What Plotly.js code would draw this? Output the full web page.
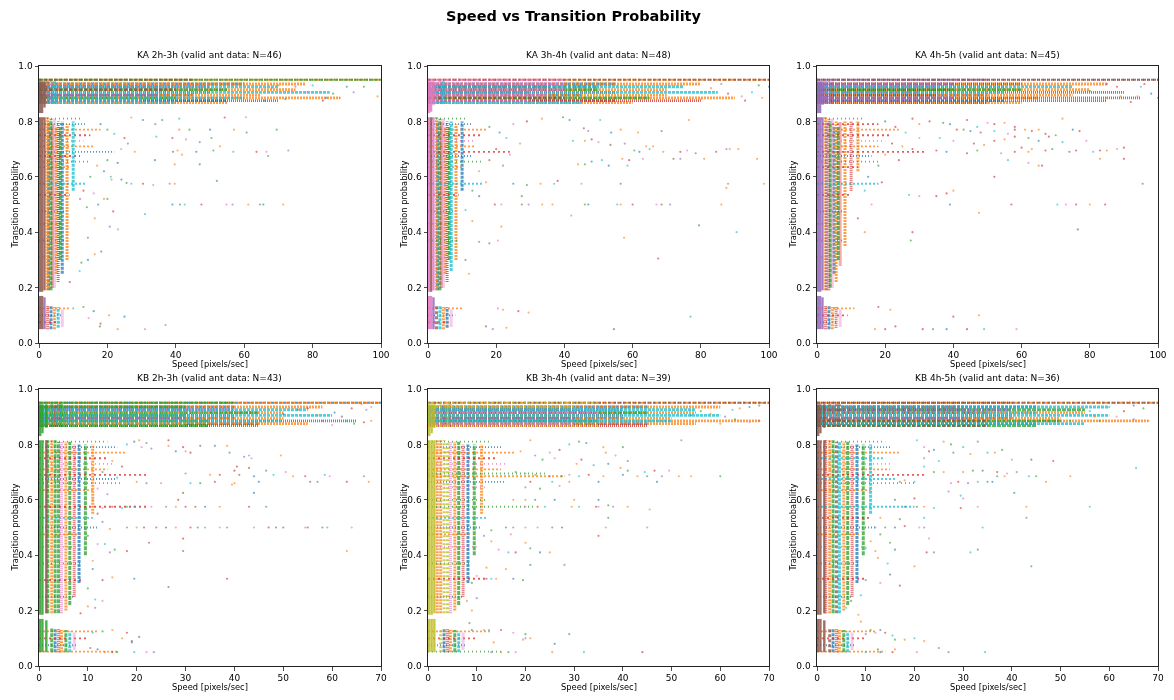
<!DOCTYPE html>
<html>
<head>
<meta charset="utf-8">
<script src="https://cdn.plot.ly/plotly-3.0.1.min.js"></script>
<style>
  body { margin: 0; background: #fff; }
  #chart { width: 1174px; height: 700px; }
</style>
</head>
<body>
<div id="chart"></div>
<script>
// ---- data ----
const PANEL_TITLES = [
    'KA 2h-3h (valid ant data: N=46)', 'KA 3h-4h (valid ant data: N=48)', 'KA 4h-5h (valid ant data: N=45)',
    'KB 2h-3h (valid ant data: N=43)', 'KB 3h-4h (valid ant data: N=39)', 'KB 4h-5h (valid ant data: N=36)'
];
const X_MAX = [100, 100, 100, 70, 70, 70];
const X_TICKS_KA = [0, 20, 40, 60, 80, 100];
const X_TICKS_KB = [0, 10, 20, 30, 40, 50, 60, 70];
const Y_TICKS = [0, 0.2, 0.4, 0.6, 0.8, 1.0];

// dense columns of points: [speed, prob from, prob to, ant colour]
// dense rows of points:    [prob, speed from, speed to, ant colour]
// single points:           [speed, prob]

const ka23_cols = [
    [0.3,0.05,0.17,5],[0.3,0.185,0.815,5],[0.3,0.83,0.945,5],
    [0.9,0.05,0.17,5],[0.9,0.185,0.815,5],[0.9,0.83,0.945,5],
    [1.6,0.05,0.165,4],[1.6,0.19,0.815,5],[1.6,0.85,0.945,5],
    [2.5,0.05,0.135,3],[2.5,0.19,0.815,1],[2.5,0.865,0.945,5],[2.8,0.19,0.8,0],
    [3.5,0.05,0.135,0],[3.5,0.19,0.81,2],[3.5,0.865,0.945,4],[3.9,0.2,0.79,3],
    [4.5,0.05,0.13,1],[4.5,0.2,0.81,6],[4.5,0.865,0.945,9],[5,0.25,0.78,1],
    [5.6,0.055,0.13,9],[5.6,0.22,0.8,3],[6.2,0.3,0.78,2],
    [6.8,0.06,0.12,6],[6.8,0.25,0.8,0],[8.2,0.3,0.79,1],[10,0.55,0.8,9]
];
const ka23_rows = [
    [0.95,0,100,2],[0.95,0,100,1],[0.95,0,45,5],
    [0.935,0,60,0],[0.935,0,78,1],[0.935,0,40,6],
    [0.925,0,70,9],[0.925,0,50,4],[0.925,0,35,3],
    [0.915,0,75,1],[0.915,0,55,2],[0.915,0,40,5],
    [0.905,0,85,9],[0.905,0,50,3],[0.905,0,30,6],
    [0.895,0,65,1],[0.895,0,45,0],[0.895,0,35,4],
    [0.885,0,88,1],[0.885,0,60,9],[0.885,0,40,2],
    [0.875,0,70,3],[0.875,0,55,0],[0.875,0,30,6],
    [0.868,0,55,1],[0.868,0,40,9],
    [0.81,0,12,2],[0.79,0,14,0],[0.77,0,18,1],[0.75,0,15,3],[0.73,0,13,6],[0.71,0,16,1],
    [0.69,0,22,0],[0.675,0,12,3],[0.655,0,15,2],[0.635,0,9,1],[0.575,0,14,9],[0.535,0,9,3],
    [0.475,0,8,0],[0.43,0,7,1],[0.37,0,8,2],[0.31,0,7,6],[0.125,0,9,1],[0.1,0,7,0],[0.075,0,6,3]
];
const ka23_pts = [
    [27,0.814],[30.4,0.805],[36,0.805],[41,0.81],[54.3,0.814],[60.5,0.815],[34,0.79],
    [41,0.77],[44,0.77],[50,0.77],[57,0.77],[60.7,0.76],[69.5,0.77],
    [34.3,0.745],[39,0.74],[43,0.735],[47,0.725],[52.9,0.71],[50.4,0.74],
    [39.2,0.69],[40.5,0.695],[46,0.69],[51,0.695],[56.8,0.69],[63.6,0.69],[66.5,0.69],[72.9,0.695],[41.8,0.68],[67,0.675],
    [33.9,0.66],[39.7,0.645],[47,0.645],
    [25.6,0.578],[27,0.575],[30.4,0.575],[33.4,0.57],[38.2,0.575],[39.7,0.575],[52,0.585],[24.1,0.59],[21.2,0.59],
    [39,0.5],[41.2,0.5],[42.6,0.5],[47.5,0.5],[54.8,0.5],[56.6,0.5],[61.2,0.5],[64.6,0.5],[65.6,0.5],[71.4,0.5],[17.3,0.5],[20,0.52],
    [31,0.465],[21.7,0.475],[23.1,0.41],[20.7,0.42],[16.3,0.45],[14.3,0.38],[18.2,0.33],[16.3,0.32],[14.3,0.3],[12.4,0.29],[11.9,0.26],[9,0.22],
    [31,0.05],[37,0.065],[23,0.05],[17.8,0.06],[25,0.095],[20.5,0.1],[16,0.115],[13,0.13],[10,0.125],[18,0.07],[14.5,0.09],
    [92,0.905],[99,0.89],[95,0.925],[90,0.925],[88,0.885],[84,0.885],[86,0.9],[80,0.93],[83,0.875],[78,0.905],[75,0.925],[70,0.93],[72,0.88],[66,0.875],[68,0.92],
    [18,0.79],[20,0.77],[22,0.755],[25,0.74],[24,0.7],[26,0.72],[28,0.69],[20,0.66],[23,0.65],[17,0.64],[19,0.62],[15,0.6],[21,0.6],[13,0.55],[16,0.54],[12,0.52],[19,0.52],[14,0.49]
];

const ka34_cols = [
    [0.3,0.05,0.17,6],[0.3,0.185,0.815,6],[0.3,0.83,0.945,6],
    [0.9,0.05,0.17,6],[0.9,0.185,0.815,5],[0.9,0.835,0.945,6],
    [1.6,0.05,0.165,4],[1.6,0.19,0.815,6],[1.6,0.86,0.945,6],
    [2.5,0.05,0.135,5],[2.5,0.19,0.815,1],[2.5,0.865,0.945,6],[2.8,0.19,0.8,0],
    [3.5,0.05,0.135,9],[3.5,0.19,0.81,2],[3.5,0.865,0.945,4],[3.9,0.2,0.8,3],
    [4.5,0.05,0.13,1],[4.5,0.2,0.81,6],[4.5,0.865,0.945,9],[5,0.25,0.78,1],
    [5.6,0.055,0.13,0],[5.6,0.22,0.8,3],[6.2,0.3,0.78,2],
    [6.8,0.06,0.12,6],[6.8,0.26,0.8,9],[8.2,0.3,0.79,1],[10,0.55,0.8,0]
];
const ka34_rows = [
    [0.95,0,100,5],[0.95,0,100,1],[0.95,0,40,6],
    [0.935,0,55,0],[0.935,0,80,1],[0.935,0,40,6],
    [0.925,0,75,9],[0.925,0,50,5],[0.925,0,35,3],
    [0.915,0,70,1],[0.915,0,50,2],[0.915,0,40,6],
    [0.905,0,85,9],[0.905,0,55,3],[0.905,0,30,4],
    [0.895,0,70,1],[0.895,0,45,0],[0.895,0,35,6],
    [0.885,0,90,1],[0.885,0,65,2],[0.885,0,40,5],
    [0.875,0,80,3],[0.875,0,55,0],[0.875,0,30,6],
    [0.868,0,60,1],[0.868,0,45,9],
    [0.81,0,11,2],[0.79,0,13,0],[0.77,0,17,1],[0.75,0,16,3],[0.73,0,14,6],[0.71,0,14,1],
    [0.69,0,24,3],[0.675,0,13,0],[0.655,0,16,2],[0.635,0,10,1],[0.575,0,16,9],[0.535,0,9,3],
    [0.475,0,8,0],[0.43,0,7,1],[0.37,0,9,2],[0.31,0,7,6],[0.125,0,10,1],[0.1,0,8,0],[0.075,0,6,3]
];
const ka34_pts = [
    [33.4,0.81],[39.6,0.815],[41.5,0.805],[50.5,0.805],[76.5,0.805],[29,0.8],[25,0.79],
    [45.7,0.775],[47,0.765],[56.5,0.77],[61.6,0.76],[68.5,0.765],[53.7,0.76],
    [42.5,0.73],[46,0.73],[48,0.735],[50,0.725],[53.5,0.715],[57.7,0.72],[64,0.71],[66,0.71],
    [60.5,0.695],[62,0.69],[65,0.7],[69,0.69],[74,0.69],[76,0.695],[84.5,0.69],[87.5,0.7],[88.5,0.7],[91,0.7],[78.5,0.685],
    [48,0.655],[51,0.66],[57,0.665],[59,0.66],[63,0.665],[72,0.665],[74,0.665],[81,0.665],[96.5,0.665],[46,0.645],[53,0.64],[58.5,0.64],[44,0.645],
    [38,0.585],[45,0.575],[56.5,0.575],[88,0.575],[87.5,0.56],[98.5,0.575],[29,0.57],[25,0.575],[37,0.575],[33,0.575],
    [19.6,0.5],[21.5,0.5],[27.5,0.5],[29.5,0.5],[33.5,0.5],[36.5,0.5],[46,0.5],[47,0.5],[55.5,0.5],[56.5,0.5],[60,0.5],[67,0.5],[68.5,0.5],[71,0.5],[86,0.5],[42,0.46],[27.5,0.53],
    [79.5,0.425],[90.5,0.4],[57.5,0.38],[67.5,0.305],[20.5,0.37],[18,0.36],[15,0.365],[21.5,0.42],[12,0.25],[11,0.3],
    [54.5,0.05],[77,0.095],[29.5,0.11],[26.5,0.115],[20.5,0.125],[17,0.06],[19,0.05],[23,0.055],[22,0.12],
    [97,0.93],[100,0.925],[95,0.905],[98,0.885],[93,0.875],[92,0.89],[88,0.9],[86,0.935],[83,0.92],[80,0.88],
    [18,0.78],[21,0.76],[23,0.74],[27,0.72],[20,0.7],[24,0.68],[18,0.66],[22,0.64],[15,0.62],[17,0.58],[13,0.55],[15,0.53],[11,0.48],[13,0.44]
];

const ka45_cols = [
    [0.3,0.05,0.17,4],[0.3,0.185,0.815,4],[0.3,0.83,0.945,4],
    [0.9,0.05,0.17,4],[0.9,0.185,0.815,4],[0.9,0.83,0.945,4],
    [1.6,0.05,0.165,4],[1.6,0.19,0.815,4],[1.6,0.86,0.945,4],
    [2.5,0.05,0.135,3],[2.5,0.19,0.815,1],[2.5,0.865,0.945,4],[2.8,0.19,0.8,4],
    [3.5,0.05,0.135,0],[3.5,0.19,0.81,3],[3.5,0.865,0.945,4],[3.9,0.2,0.8,2],
    [4.5,0.05,0.13,1],[4.5,0.2,0.81,6],[4.5,0.865,0.945,3],[5,0.25,0.78,0],
    [5.6,0.055,0.13,3],[5.6,0.22,0.8,1],[6.2,0.3,0.78,2],
    [6.8,0.06,0.12,6],[6.8,0.28,0.8,3],[8.2,0.35,0.8,1],[10,0.55,0.8,3],[12,0.62,0.8,1]
];
const ka45_rows = [
    [0.95,0,100,3],[0.95,0,100,5],[0.95,0,50,4],
    [0.935,0,60,3],[0.935,0,85,1],[0.935,0,40,4],
    [0.925,0,75,9],[0.925,0,55,3],[0.925,0,35,4],
    [0.915,0,80,1],[0.915,0,60,2],[0.915,0,40,3],
    [0.905,0,90,3],[0.905,0,55,9],[0.905,0,30,4],
    [0.895,0,75,1],[0.895,0,50,0],[0.895,0,35,3],
    [0.885,0,95,3],[0.885,0,65,1],[0.885,0,40,4],
    [0.875,0,85,3],[0.875,0,55,0],[0.875,0,30,4],
    [0.868,0,60,1],[0.868,0,50,3],
    [0.81,0,14,2],[0.79,0,18,3],[0.77,0,24,1],[0.75,0,22,3],[0.73,0,20,6],[0.71,0,18,1],
    [0.69,0,32,3],[0.675,0,16,0],[0.655,0,18,2],[0.635,0,12,3],[0.575,0,18,9],[0.535,0,10,3],
    [0.475,0,8,0],[0.43,0,7,1],[0.37,0,8,2],[0.31,0,7,6],[0.125,0,11,1],[0.1,0,9,3],[0.075,0,6,0]
];
const ka45_pts = [
    [28,0.81],[30,0.79],[33,0.8],[37,0.795],[39,0.79],[44,0.805],[47,0.78],[50,0.795],[52,0.79],[55,0.795],[58,0.78],[72,0.81],
    [41,0.77],[43,0.77],[45,0.765],[48,0.76],[52,0.765],[56,0.755],[58,0.77],[61,0.77],[63,0.765],[65,0.77],[67,0.755],[70,0.75],[75,0.77],[77,0.765],
    [36,0.74],[40,0.73],[46,0.72],[49,0.715],[52,0.73],[55,0.735],[58,0.745],[62,0.74],[65,0.73],[68,0.745],[72,0.725],[79,0.73],[83,0.695],[85,0.695],
    [60,0.705],[63,0.7],[67,0.695],[69,0.7],[74,0.69],[76,0.695],[81,0.69],[88,0.7],[90,0.705],
    [54,0.685],[58,0.69],[62,0.69],[44,0.685],[47,0.695],[38,0.69],[35,0.695],
    [56,0.66],[62,0.65],[66,0.64],[83,0.665],[90,0.665],[65,0.64],[52,0.6],[95.5,0.575],
    [39,0.5],[57,0.5],[70.5,0.5],[73,0.5],[76,0.5],[80,0.5],[84.5,0.5],
    [47.5,0.47],[28,0.4],[27.5,0.37],[76.5,0.41],[35,0.53],[27,0.535],[30,0.53],[38,0.54],[40,0.55],
    [40,0.095],[47.5,0.1],[31,0.05],[34,0.05],[38,0.05],[44,0.05],[49,0.05],[58.5,0.05],[20,0.05],[17,0.05],[23,0.06],[21.5,0.12],[18,0.13],
    [100,0.885],[98,0.9],[96,0.935],[95,0.925],[94,0.89],[92,0.87],[89,0.89],[88,0.925],[85,0.885],[85,0.935],[80,0.91],
    [20,0.8],[23,0.78],[26,0.76],[30,0.74],[22,0.72],[25,0.71],[28,0.7],[20,0.68],[24,0.66],[18,0.64],[15,0.6],[19,0.58],[14,0.55],[16,0.5],[12,0.45],[14,0.4]
];

const kb23_cols = [
    [0.25,0.05,0.17,2],[0.25,0.185,0.815,2],[0.25,0.83,0.945,2],
    [0.7,0.05,0.17,2],[0.7,0.185,0.815,2],[0.7,0.84,0.945,2],
    [1.5,0.05,0.165,2],[1.5,0.19,0.815,5],[1.5,0.86,0.945,2],[1.8,0.19,0.815,2],
    [2.6,0.05,0.135,2],[2.6,0.19,0.815,1],[2.6,0.865,0.945,2],
    [3.3,0.05,0.135,0],[3.3,0.19,0.815,2],[3.3,0.865,0.945,3],
    [4,0.05,0.135,3],[4,0.19,0.81,2],[4,0.865,0.945,2],
    [4.6,0.05,0.13,1],[4.6,0.19,0.81,6],[4.6,0.865,0.945,2],
    [5.5,0.05,0.13,2],[5.5,0.2,0.81,1],[6.3,0.05,0.125,9],[6.3,0.22,0.81,2],
    [7.2,0.06,0.12,6],[7.2,0.25,0.8,3],[8.2,0.3,0.8,0],[9.5,0.4,0.8,2],[11,0.55,0.8,1]
];
const kb23_rows = [
    [0.95,0,70,0],[0.95,0,70,1],[0.95,0,40,2],
    [0.935,0,40,0],[0.935,0,58,1],[0.935,0,30,2],
    [0.925,0,55,9],[0.925,0,40,4],[0.925,0,30,3],
    [0.915,0,50,1],[0.915,0,45,2],[0.915,0,35,6],
    [0.905,0,60,9],[0.905,0,40,3],[0.905,0,30,2],
    [0.895,0,50,1],[0.895,0,40,0],[0.895,0,30,4],
    [0.885,0,65,3],[0.885,0,50,9],[0.885,0,35,2],
    [0.875,0,55,1],[0.875,0,45,0],[0.875,0,30,6],
    [0.868,0,45,3],[0.868,0,35,2],
    [0.81,0,14,2],[0.79,0,16,0],[0.77,0,18,1],[0.75,0,14,3],[0.73,0,15,6],[0.71,0,14,1],
    [0.69,0,22,3],[0.675,0,16,0],[0.66,0,17,2],[0.635,0,11,1],[0.575,0,22,3],[0.535,0,11,9],
    [0.5,0,12,0],[0.475,0,9,1],[0.43,0,9,6],[0.37,0,9,2],[0.31,0,9,3],[0.25,0,7,0],
    [0.125,0,12,1],[0.1,0,10,3],[0.075,0,8,0],[0.052,0,16,1]
];
const kb23_pts = [
    [19.5,0.81],[20.5,0.815],[26.5,0.815],[22,0.805],[18,0.8],
    [21,0.79],[23,0.785],[26.5,0.795],[29.5,0.79],[33,0.795],[36,0.795],[38.5,0.795],[31,0.77],[39,0.77],[43,0.76],[43.5,0.75],[42,0.755],[49.5,0.76],[40.5,0.72],[43,0.715],[28,0.775],[30,0.775],
    [40,0.705],[46.5,0.705],[48,0.69],[50.5,0.7],[30,0.695],[35,0.69],[37,0.69],[41,0.69],[44,0.685],[52,0.685],[54.5,0.685],[57,0.665],[58.5,0.69],[59.5,0.685],[66.5,0.685],[67.5,0.665],[63,0.665],[55.5,0.665],[45,0.665],[40,0.66],[36,0.665],[33,0.66],[31,0.66],[25,0.66],[22,0.66],[20,0.665],
    [28.5,0.6],[29.5,0.625],[44,0.625],[39.5,0.655],
    [15,0.575],[18,0.575],[19.5,0.575],[23,0.575],[26,0.575],[28,0.575],[30,0.575],[32,0.575],[34,0.575],[37,0.575],[43,0.575],[46.5,0.575],[17,0.57],[13,0.57],
    [18,0.5],[20,0.5],[21.5,0.5],[24,0.5],[26,0.5],[28,0.5],[31,0.5],[32.5,0.5],[34,0.5],[37,0.5],[38.5,0.5],[44,0.5],[47,0.5],[48.5,0.5],[50,0.5],[54.5,0.5],[55,0.5],[58,0.5],[59,0.5],[64,0.5],[13,0.52],[14.5,0.495],
    [29.5,0.46],[22.5,0.445],[29.5,0.415],[63,0.415],[18,0.415],[15.5,0.42],[13.5,0.44],[12,0.44],[14.5,0.41],[11,0.38],
    [38.5,0.315],[26.5,0.285],[19.5,0.315],[15,0.32],[13,0.31],[10,0.28],[11.5,0.24],[13,0.235],[11.5,0.21],[10,0.215],[8.5,0.19],
    [10.5,0.065],[12,0.06],[13.5,0.05],[15,0.05],[16,0.05],[19.5,0.05],[22,0.05],[23.5,0.05],[17,0.1],[19,0.09],[20.5,0.105],[19,0.085],[15,0.13],[18,0.12],[13,0.125],[11,0.12],
    [68,0.935],[67,0.925],[66,0.945],[64,0.93],[62,0.9],[60.5,0.915],[68,0.885],[66.5,0.88],[64.5,0.875],[63,0.885],[60,0.87],[58,0.885],[57,0.905],[55,0.93],[53,0.925],[50,0.91],
    [15,0.74],[17,0.72],[13,0.7],[16,0.68],[12,0.64],[14,0.62],[11,0.6],[12,0.55],[10,0.47],[11,0.35]
];

const kb34_cols = [
    [0.25,0.05,0.17,8],[0.25,0.185,0.815,8],[0.25,0.83,0.945,8],
    [0.75,0.05,0.17,8],[0.75,0.185,0.815,8],[0.75,0.84,0.945,8],
    [1.3,0.05,0.17,8],[1.3,0.19,0.815,8],[1.3,0.86,0.945,8],[1.9,0.19,0.815,1],
    [2.6,0.05,0.135,8],[2.6,0.19,0.815,1],[2.6,0.865,0.945,8],
    [3.3,0.05,0.135,0],[3.3,0.19,0.815,8],[3.3,0.865,0.945,3],
    [4,0.05,0.135,3],[4,0.19,0.81,8],[4,0.865,0.945,8],
    [4.6,0.05,0.13,1],[4.6,0.19,0.81,6],[4.6,0.865,0.945,1],
    [5.5,0.05,0.13,2],[5.5,0.2,0.81,1],[6.3,0.05,0.125,9],[6.3,0.22,0.81,2],
    [7.2,0.06,0.12,6],[7.2,0.25,0.8,3],[8.2,0.3,0.8,0],[9.5,0.4,0.8,2],[11,0.55,0.8,1]
];
const kb34_rows = [
    [0.95,0,70,1],[0.95,0,70,5],[0.95,0,35,8],
    [0.935,0,45,0],[0.935,0,60,1],[0.935,0,30,8],
    [0.925,0,55,9],[0.925,0,40,4],[0.925,0,30,3],
    [0.915,0,55,1],[0.915,0,45,2],[0.915,0,35,6],
    [0.905,0,60,9],[0.905,0,40,3],[0.905,0,30,8],
    [0.895,0,50,1],[0.895,0,40,0],[0.895,0,30,4],
    [0.885,0,68,1],[0.885,0,50,9],[0.885,0,35,2],
    [0.875,0,55,1],[0.875,0,45,0],[0.875,0,30,6],
    [0.868,0,45,3],[0.868,0,35,8],
    [0.81,0,13,2],[0.79,0,15,0],[0.77,0,18,1],[0.75,0,14,3],[0.73,0,16,6],[0.71,0,15,1],
    [0.695,0,24,2],[0.685,0,28,1],[0.665,0,16,0],[0.645,0,12,6],[0.6,0,12,2],[0.575,0,22,2],
    [0.535,0,12,9],[0.5,0,11,0],[0.475,0,9,1],[0.43,0,10,6],[0.37,0,9,2],[0.315,0,12,3],[0.25,0,7,0],
    [0.125,0,13,1],[0.1,0,10,3],[0.075,0,8,0],[0.052,0,15,2]
];
const kb34_pts = [
    [21,0.815],[31,0.81],[32.5,0.805],[36,0.79],[29,0.8],[27,0.78],[25,0.77],[40,0.79],[52,0.815],[36.5,0.77],[38.5,0.76],[41,0.74],[37,0.73],[30.5,0.73],[34,0.725],[31.5,0.745],[26,0.75],[23.5,0.745],[22,0.76],[19,0.775],
    [39.5,0.715],[41,0.705],[40,0.69],[43,0.685],[44.5,0.7],[46.5,0.705],[49.5,0.705],[45,0.685],[48,0.685],[51.5,0.685],[54,0.685],[60,0.685],[47,0.665],[36,0.685],[31,0.685],[33,0.69],[29,0.69],[27.5,0.685],[25,0.685],[22,0.69],[20,0.695],[18,0.7],[35,0.665],[29,0.665],[25.5,0.665],[21,0.665],[27,0.65],[23,0.64],[20,0.645],
    [17.5,0.6],[20,0.6],[22,0.6],[26,0.6],[29.5,0.575],[31,0.575],[34.5,0.575],[35,0.575],[37,0.58],[38,0.575],[41,0.575],[45.5,0.565],[37,0.535],[35,0.6],[30,0.6],[24,0.575],[22.5,0.575],[20,0.575],
    [16,0.5],[17.5,0.5],[20,0.5],[22.5,0.5],[25.5,0.5],[27.5,0.5],[36.5,0.5],[45,0.5],[35,0.47],[17,0.475],[13,0.49],[11.5,0.47],[13,0.45],[20,0.445],[21,0.425],[23,0.41],[25,0.41],[16.5,0.41],[18,0.41],[14.5,0.42],[21,0.365],[28,0.365],[12,0.355],
    [16,0.35],[19.5,0.31],[17.5,0.315],[14,0.315],[13,0.315],[12,0.315],[10,0.325],[9,0.3],[10,0.245],[8,0.235],[9,0.2],
    [8.5,0.155],[9,0.13],[11.5,0.13],[12.5,0.13],[15,0.13],[17.5,0.12],[20,0.115],[20,0.1],[21,0.1],[19.5,0.095],[29,0.115],[26,0.08],[25.5,0.05],[32,0.05],[44,0.05],[18,0.05],[16.5,0.05],[13,0.05],[15,0.05],[13.5,0.085],
    [68,0.94],[66,0.935],[64,0.93],[62.5,0.925],[68,0.885],[66,0.88],[63,0.89],[61,0.9],[60,0.875],[58,0.91],[56,0.92],[54,0.905]
];

const kb45_cols = [
    [0.25,0.05,0.17,5],[0.25,0.185,0.815,5],[0.25,0.83,0.945,5],
    [0.7,0.05,0.17,5],[0.7,0.185,0.815,5],[0.7,0.84,0.945,5],
    [1.5,0.05,0.165,5],[1.5,0.19,0.815,5],[1.5,0.86,0.945,5],[1.8,0.19,0.815,3],
    [2.6,0.05,0.135,5],[2.6,0.19,0.815,1],[2.6,0.865,0.945,5],
    [3.3,0.05,0.135,0],[3.3,0.19,0.815,2],[3.3,0.865,0.945,3],
    [4,0.05,0.135,3],[4,0.19,0.81,5],[4,0.865,0.945,5],
    [4.6,0.05,0.13,1],[4.6,0.19,0.81,9],[4.6,0.865,0.945,5],
    [5.5,0.05,0.13,2],[5.5,0.2,0.81,1],[6.3,0.05,0.125,9],[6.3,0.22,0.81,2],
    [7.2,0.06,0.12,6],[7.2,0.25,0.8,3],[8.2,0.3,0.8,0],[9.5,0.4,0.8,2],[11,0.55,0.8,9]
];
const kb45_rows = [
    [0.95,0,70,1],[0.95,0,70,5],[0.95,0,40,3],
    [0.935,0,45,0],[0.935,0,60,9],[0.935,0,30,5],
    [0.925,0,55,2],[0.925,0,40,4],[0.925,0,30,3],
    [0.915,0,55,1],[0.915,0,45,9],[0.915,0,35,5],
    [0.905,0,60,9],[0.905,0,40,3],[0.905,0,30,6],
    [0.895,0,50,1],[0.895,0,40,0],[0.895,0,30,4],
    [0.885,0,68,1],[0.885,0,50,2],[0.885,0,35,5],
    [0.875,0,55,9],[0.875,0,45,0],[0.875,0,30,3],
    [0.868,0,45,2],[0.868,0,35,5],
    [0.81,0,14,2],[0.79,0,15,0],[0.77,0,17,1],[0.75,0,14,9],[0.73,0,15,6],[0.71,0,15,1],
    [0.69,0,22,3],[0.675,0,16,9],[0.66,0,20,2],[0.635,0,11,1],[0.575,0,20,9],[0.535,0,11,3],
    [0.5,0,12,0],[0.475,0,9,1],[0.43,0,10,6],[0.37,0,9,2],[0.315,0,10,3],[0.25,0,7,0],
    [0.125,0,12,1],[0.1,0,10,3],[0.075,0,8,0],[0.052,0,14,1]
];
const kb45_pts = [
    [20.5,0.815],[26,0.81],[27.5,0.8],[24,0.78],[23,0.775],[22,0.79],[33,0.81],[30,0.79],[28,0.77],[31.5,0.765],[35,0.77],[36.5,0.77],[38,0.78],[44,0.745],[48.5,0.74],[40,0.745],[22,0.75],[25,0.74],
    [24,0.7],[26,0.7],[22,0.72],[30,0.7],[32,0.705],[34,0.705],[37,0.7],[39,0.695],[41,0.7],[43.5,0.685],[45,0.685],[52,0.685],[65.5,0.715],[38.5,0.685],[37,0.685],
    [36,0.665],[29,0.665],[27.5,0.66],[31,0.66],[33,0.665],[35,0.665],[47,0.665],[20,0.665],[18,0.67],[17,0.665],
    [16,0.6],[20,0.605],[30,0.605],[27,0.63],[29.5,0.615],[40.5,0.625],[43,0.575],[56,0.575],[22,0.575],[20.5,0.575],[18,0.575],[29.5,0.57],[33,0.575],[43,0.535],[22,0.535],[17,0.53],[13,0.535],[24,0.57],
    [12,0.5],[14,0.5],[16,0.5],[18,0.505],[21,0.5],[22,0.5],[34,0.5],[13,0.475],[11,0.45],[10,0.425],[12,0.415],[15,0.445],[16,0.42],[22.5,0.41],[23,0.46],[24,0.41],[31.5,0.41],[33,0.42],
    [20,0.36],[14.5,0.37],[12.5,0.39],[44,0.36],[15,0.33],[17,0.29],[13,0.3],[10,0.31],[9,0.255],[7,0.235],[8.5,0.185],[6,0.21],
    [9,0.16],[11,0.13],[13,0.13],[14,0.12],[12,0.12],[10,0.115],[15.5,0.11],[16,0.095],[18,0.095],[20,0.1],[22,0.09],[12.5,0.06],[13,0.05],[15.5,0.05],[20.5,0.05],[27,0.05],[34.5,0.05],[25,0.065],[16,0.06],[10,0.05],
    [68,0.885],[67,0.93],[65,0.94],[63,0.92],[61.5,0.9],[65,0.89],[60,0.935],[58,0.885],[57,0.9],[56,0.92],[54,0.93],[52,0.885]
];

// ---- drawing ----
const TAB10 = ['#1f77b4','#ff7f0e','#2ca02c','#d62728','#9467bd','#8c564b','#e377c2','#7f7f7f','#bcbd22','#17becf'];
const DASHES = ['3px,1px','2px,1px','4px,1px','1px,1px','2px,1px','3px,2px','1px,1px','5px,2px','2px,2px','3px,1px'];
const CLOUD_DASHES = ['1px,2px','2px,2px','1px,3px','2px,3px','1px,2px','2px,2px','1px,3px','2px,3px','1px,2px','2px,2px'];
const PT_ORDER = [
    [1,0,2,9,3,6,4,1,2,0], [1,2,0,9,1,3,6,5,4,1], [3,1,3,2,0,3,9,6,3,1],
    [0,1,3,2,9,6,4,1,3,5], [1,2,0,1,9,3,6,2,4,1], [9,1,2,0,3,6,4,9,2,1]
];
const PANELS = [
    { cols: ka23_cols, rows: ka23_rows, pts: ka23_pts },
    { cols: ka34_cols, rows: ka34_rows, pts: ka34_pts },
    { cols: ka45_cols, rows: ka45_rows, pts: ka45_pts },
    { cols: kb23_cols, rows: kb23_rows, pts: kb23_pts },
    { cols: kb34_cols, rows: kb34_rows, pts: kb34_pts },
    { cols: kb45_cols, rows: kb45_rows, pts: kb45_pts }
];

const W = 1174, H = 700;
const X_DOM = [[39 / W, 381 / W], [428 / W, 769 / W], [817 / W, 1158 / W]];
const Y_DOM = [[1 - 343 / H, 1 - 66 / H], [1 - 666 / H, 1 - 389 / H]];

function segTrace(seg, xa, ya, c, width, dash, opacity) {
    return {
        type: 'scatter', mode: 'lines', x: seg.x, y: seg.y, xaxis: xa, yaxis: ya,
        line: { color: TAB10[c], width: width, dash: dash }, opacity: opacity,
        showlegend: false, hoverinfo: 'skip'
    };
}

const lowTraces = [], topTraces = [], pointTraces = [];
PANELS.forEach((p, i) => {
    const xa = 'x' + (i ? i + 1 : ''), ya = 'y' + (i ? i + 1 : '');
    for (let c = 0; c < 10; c++) {
        const g = { top: { x: [], y: [] }, band: { x: [], y: [] }, cloud: { x: [], y: [] }, colD: { x: [], y: [] }, colS: { x: [], y: [] } };
        p.cols.filter(s => s[3] === c).forEach(s => {
            const t = s[0] <= 1.6 ? g.colS : g.colD;
            t.x.push(s[0], s[0], null); t.y.push(s[1], s[2], null);
        });
        p.rows.filter(s => s[3] === c).forEach(s => {
            const t = s[0] >= 0.945 ? g.top : (s[0] > 0.85 ? g.band : g.cloud);
            t.x.push(s[1], s[2], null); t.y.push(s[0], s[0], null);
        });
        if (g.band.x.length) lowTraces.push(segTrace(g.band, xa, ya, c, 2.8, DASHES[c], 0.75));
        if (g.cloud.x.length) lowTraces.push(segTrace(g.cloud, xa, ya, c, 1.8, CLOUD_DASHES[c], 0.75));
        if (g.colD.x.length) lowTraces.push(segTrace(g.colD, xa, ya, c, 3, DASHES[c], 0.75));
        if (g.top.x.length) topTraces.push(segTrace(g.top, xa, ya, c, 2, DASHES[c], 0.8));
        if (g.colS.x.length) topTraces.push(segTrace(g.colS, xa, ya, c, 2.4, 'solid', 0.85));
    }
    const byColor = {};
    p.pts.forEach((pt, k) => {
        const c = PT_ORDER[i][k % 10];
        (byColor[c] = byColor[c] || { x: [], y: [] });
        byColor[c].x.push(pt[0]); byColor[c].y.push(pt[1]);
    });
    Object.keys(byColor).forEach(c => pointTraces.push({
        type: 'scatter', mode: 'markers', x: byColor[c].x, y: byColor[c].y, xaxis: xa, yaxis: ya,
        marker: { color: TAB10[c], size: 2.2, line: { width: 0 } }, opacity: 0.6,
        showlegend: false, hovertemplate: '%{x:.1f}, %{y:.2f}<extra></extra>'
    }));
});

const FONT = "'DejaVu Sans', 'Liberation Sans', sans-serif";
const layout = {
    width: W, height: H,
    paper_bgcolor: '#fff', plot_bgcolor: '#fff',
    font: { family: FONT, color: '#000', size: 9 },
    margin: { l: 0, r: 0, t: 0, b: 0 },
    showlegend: false,
    title: { text: '<b>Speed vs Transition Probability</b>', x: 573.5 / W, xanchor: 'center', y: 1 - 16 / H, yanchor: 'middle', font: { size: 14.5, family: FONT } },
    annotations: []
};

PANELS.forEach((p, i) => {
    const col = i % 3, row = Math.floor(i / 3);
    const xd = X_DOM[col], yd = Y_DOM[row];
    const n = i ? i + 1 : '';
    const common = {
        showgrid: false, zeroline: false, showline: true, mirror: true,
        linecolor: '#222', linewidth: 1, ticks: 'outside', ticklen: 3.5, tickwidth: 0.8, tickcolor: '#222',
        tickfont: { size: 9, color: '#000', family: FONT }, automargin: false, fixedrange: true
    };
    layout['xaxis' + n] = Object.assign({}, common, {
        domain: xd, anchor: 'y' + n, range: [0, X_MAX[i]],
        tickvals: X_MAX[i] === 100 ? X_TICKS_KA : X_TICKS_KB
    });
    layout['yaxis' + n] = Object.assign({}, common, {
        domain: yd, anchor: 'x' + n, range: [0, 1],
        tickvals: Y_TICKS, tickformat: '.1f'
    });
    const xc = (xd[0] + xd[1]) / 2;
    layout.annotations.push(
        { text: PANEL_TITLES[i], xref: 'paper', yref: 'paper', x: xc, y: yd[1] + 4 / H, xanchor: 'center', yanchor: 'bottom', showarrow: false, font: { size: 9 } },
        { text: 'Speed [pixels/sec]', xref: 'paper', yref: 'paper', x: xc, y: yd[0] - 21 / H, xanchor: 'center', yanchor: 'middle', showarrow: false, font: { size: 8.3 } },
        { text: 'Transition probability', xref: 'paper', yref: 'paper', x: xd[0] - 25 / W, y: (yd[0] + yd[1]) / 2, xanchor: 'center', yanchor: 'middle', textangle: -90, showarrow: false, font: { size: 8.3 } }
    );
});

Plotly.newPlot('chart', lowTraces.concat(topTraces, pointTraces), layout, { displayModeBar: false, staticPlot: true });
</script>
</body>
</html>
